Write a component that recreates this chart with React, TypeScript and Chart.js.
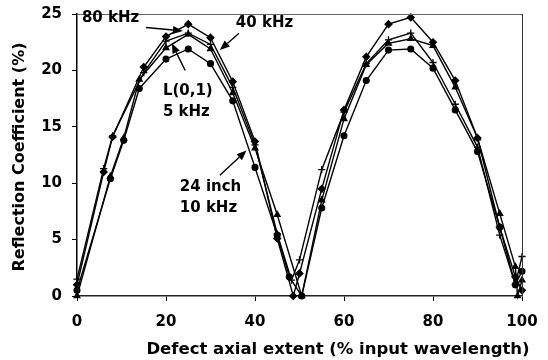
import React, { useEffect, useRef } from "react";
import { Chart, registerables } from "chart.js";
Chart.register(...registerables);

// ---- data ----
const xDiamond = [0, 6, 8, 15, 20, 25, 30, 35, 40, 45, 48.6, 50, 55, 60, 65, 70, 75, 80, 85, 90, 95, 98.5, 100];
const yDiamond = [1.0, 11.0, 14.1, 20.3, 23.0, 24.1, 22.9, 19.0, 13.7, 5.1, 0, 2.0, 9.5, 16.5, 21.2, 24.1, 24.7, 22.5, 19.1, 14.0, 6.1, 1.7, 0.5];

const xPlus = [0, 6, 8, 15, 20, 25, 30, 35, 40, 45, 48.2, 50, 55, 60, 65, 70, 75, 80, 85, 90, 95, 98.5, 100];
const yPlus = [1.5, 11.3, 14.2, 19.8, 22.6, 23.3, 22.3, 18.5, 13.4, 5.5, 1.4, 3.2, 11.2, 16.3, 20.6, 22.7, 23.3, 20.7, 17.0, 13.2, 5.4, 1.0, 3.5];

const xCircle = [0, 7.5, 10.5, 14, 20, 25, 30, 35, 40, 45, 47.7, 50.5, 55, 60, 65, 70, 75, 80, 85, 90, 95, 98.5, 100];
const yCircle = [0.5, 10.4, 13.8, 18.4, 21.0, 21.9, 20.6, 17.3, 11.4, 5.4, 1.7, 0, 7.8, 14.2, 19.1, 21.8, 21.9, 20.2, 16.5, 12.8, 6.1, 1.0, 2.2];

const xTriangle = [0, 7.5, 10.5, 14, 20, 25, 30, 35, 40, 45, 50.5, 55, 60, 65, 70, 75, 80, 85, 90, 95, 98.5, 99, 100];
const yTriangle = [0, 10.6, 14.0, 19.2, 22.0, 23.2, 21.9, 18.0, 13.1, 7.2, 0, 8.5, 15.7, 20.5, 22.4, 22.8, 22.2, 18.5, 14.0, 7.3, 2.6, 0, 1.4];

const xTitle = "Defect axial extent (% input wavelength)";
const yTitle = "Reflection Coefficient (%)";

// annotation texts: lines, left x (data), centre y of first line (data)
const noteLines = [
  { lines: ["80 kHz"], x: 1.1, y: 24.6 },
  { lines: ["40 kHz"], x: 35.7, y: 24.2 },
  { lines: ["L(0,1)", "5 kHz"], x: 19.3, y: 18.2 },
  { lines: ["24 inch", "10 kHz"], x: 23.1, y: 9.65 },
];
const arrowFrom = [[15.5, 23.8], [36.4, 23.3], [24.3, 20.0], [32.1, 10.7]];
const arrowTo = [[23.8, 23.5], [32.1, 21.8], [21.3, 22.4], [38.1, 12.9]];

const FONT = "'DejaVu Sans', 'Liberation Sans', Arial, sans-serif";

function pts(xs: number[], ys: number[]) {
  return xs.map((x, i) => ({ x, y: ys[i] }));
}

function ds(label: string, xs: number[], ys: number[], style: string, r: number) {
  return {
    label,
    data: pts(xs, ys),
    borderColor: "#000",
    backgroundColor: "#000",
    borderWidth: 1.4,
    pointStyle: style,
    pointRadius: r,
    pointBackgroundColor: "#000",
    pointBorderColor: "#000",
    pointBorderWidth: 1.3,
    tension: 0,
    clip: false,
    showLine: true,
  };
}

const overlay = {
  id: "overlay",
  afterDraw(chart: any) {
    const ctx = chart.ctx;
    const { left, right, top, bottom } = chart.chartArea;
    const xs = chart.scales.x;
    const ys = chart.scales.y;
    ctx.save();
    // frame top/right
    ctx.strokeStyle = "#666";
    ctx.lineWidth = 1;
    ctx.beginPath();
    ctx.moveTo(left, top + 0.5);
    ctx.lineTo(right, top + 0.5);
    ctx.stroke();
    ctx.strokeStyle = "#333";
    ctx.beginPath();
    ctx.moveTo(right + 0.5, top);
    ctx.lineTo(right + 0.5, bottom);
    ctx.stroke();

    ctx.fillStyle = "#000";
    // axis titles
    ctx.font = `bold 16.5px ${FONT}`;
    ctx.textAlign = "center";
    ctx.textBaseline = "middle";
    ctx.fillText(xTitle, 338, 350);
    ctx.save();
    ctx.translate(20, 157);
    ctx.rotate(-Math.PI / 2);
    ctx.font = `bold 16px ${FONT}`;
    ctx.fillText(yTitle, 0, 0);
    ctx.restore();

    // annotations
    ctx.font = `bold 15px ${FONT}`;
    ctx.textAlign = "left";
    ctx.textBaseline = "middle";
    noteLines.forEach((n) => {
      const px = xs.getPixelForValue(n.x);
      const py = ys.getPixelForValue(n.y);
      n.lines.forEach((l, i) => ctx.fillText(l, px, py + i * 21));
    });

    // arrows
    ctx.strokeStyle = "#000";
    ctx.lineWidth = 1.4;
    arrowFrom.forEach((f, i) => {
      const t = arrowTo[i];
      const x1 = xs.getPixelForValue(f[0]);
      const y1 = ys.getPixelForValue(f[1]);
      const x2 = xs.getPixelForValue(t[0]);
      const y2 = ys.getPixelForValue(t[1]);
      const ang = Math.atan2(y2 - y1, x2 - x1);
      const hl = 10, hw = 4;
      const bx = x2 - hl * Math.cos(ang);
      const by = y2 - hl * Math.sin(ang);
      ctx.beginPath();
      ctx.moveTo(x1, y1);
      ctx.lineTo(bx, by);
      ctx.stroke();
      ctx.beginPath();
      ctx.moveTo(x2, y2);
      ctx.lineTo(bx + hw * Math.sin(ang), by - hw * Math.cos(ang));
      ctx.lineTo(bx - hw * Math.sin(ang), by + hw * Math.cos(ang));
      ctx.closePath();
      ctx.fill();
    });
    ctx.restore();
  },
};

export default function App() {
  const ref = useRef<HTMLCanvasElement | null>(null);
  useEffect(() => {
    if (!ref.current) return;
    const chart = new Chart(ref.current, {
      type: "line",
      data: {
        datasets: [
          ds("80 kHz", xDiamond, yDiamond, "rectRot", 3.4),
          ds("40 kHz", xPlus, yPlus, "cross", 3.6),
          ds("5 kHz", xCircle, yCircle, "circle", 2.9),
          ds("10 kHz", xTriangle, yTriangle, "triangle", 3.3),
        ] as any,
      },
      options: {
        animation: false,
        responsive: false,
        maintainAspectRatio: false,
        layout: { padding: { top: 14, right: 26, left: 0, bottom: 0 } },
        plugins: { legend: { display: false }, tooltip: { enabled: false } },
        scales: {
          x: {
            type: "linear",
            min: 0,
            max: 100,
            ticks: { stepSize: 20, color: "#000", padding: 12, font: { family: FONT, size: 15, weight: "bold" } },
            grid: { display: true, drawOnChartArea: false, drawTicks: true, tickLength: 5, color: "#000" },
            border: { display: true, color: "#222", width: 1.5 },
            afterFit: (s: any) => {
              s.height = 64;
              s.paddingLeft = 0;
              s.paddingRight = 0;
            },
          },
          y: {
            type: "linear",
            min: 0,
            max: 25,
            ticks: { stepSize: 5, color: "#000", padding: 10, font: { family: FONT, size: 15, weight: "bold" } },
            grid: { display: true, drawOnChartArea: false, drawTicks: true, tickLength: 5, color: "#000" },
            border: { display: true, color: "#000", width: 1.5 },
            afterFit: (s: any) => {
              s.width = 77;
              s.paddingTop = 0;
              s.paddingBottom = 0;
            },
          },
        },
      } as any,
      plugins: [overlay],
    });
    return () => chart.destroy();
  }, []);
  return (
    <div style={{ position: "absolute", left: 0, top: 0, width: 548, height: 360, background: "#fff" }}>
      <canvas ref={ref} width={548} height={360} />
    </div>
  );
}
